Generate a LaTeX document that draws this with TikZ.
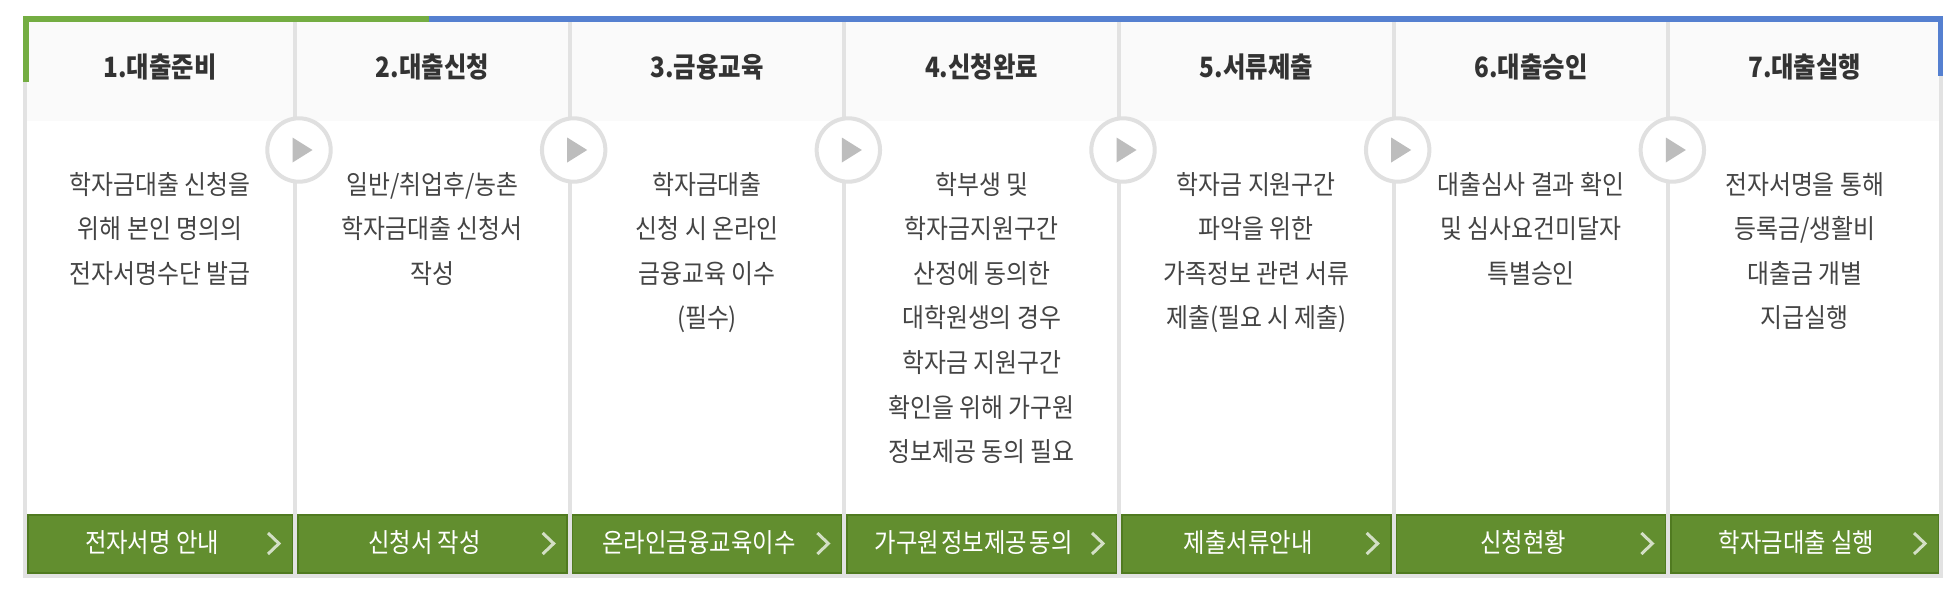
\documentclass[tikz,border=0pt]{standalone}
\usepackage{fontspec}
\newfontfamily\kr[FakeStretch=0.9]{Noto Sans CJK KR}
\newfontfamily\krbtn[FakeStretch=0.88]{Noto Sans CJK KR}
\newfontfamily\krhead[FakeStretch=0.87]{Noto Sans CJK KR}
\definecolor{frgray}{HTML}{E2E2E2}
\definecolor{hdbg}{HTML}{FAFAFA}
\definecolor{topgreen}{RGB}{116,173,66}
\definecolor{topblue}{RGB}{85,128,208}
\definecolor{btnfill}{RGB}{98,142,47}
\definecolor{btnedge}{RGB}{80,122,32}
\definecolor{hdtext}{HTML}{333333}
\definecolor{bdtext}{HTML}{444444}
\definecolor{tri}{HTML}{BDBDBD}
\definecolor{circ}{HTML}{E0E0E0}
\tikzset{
  headtxt/.style={anchor=base, inner sep=0pt, text=hdtext, font={\krhead\bfseries\fontsize{28}{32}\selectfont}},
  bodytxt/.style={anchor=base, inner sep=0pt, text=bdtext, font={\kr\fontsize{26.5}{30}\selectfont}},
  btntxt/.style={anchor=base, inner sep=0pt, text=white, font={\krbtn\fontsize{26.5}{30}\selectfont}},
  btnbox/.style={fill=btnfill, draw=btnedge, line width=1.5pt},
  chev/.style={draw=white!72!btnfill, line width=3pt},
  stepcirc/.style={circle, draw=circ, line width=4pt, fill=white, minimum size=63.4pt, inner sep=0pt},
}
\begin{document}
\begin{tikzpicture}[x=1pt,y=-1pt]
\useasboundingbox (0,0) rectangle (1956,592);
\fill[white] (0,0) rectangle (1956,592);
% header background
\fill[hdbg] (27,22) rectangle (1939,121);
% separators
\foreach \k in {1,...,6}{
  \pgfmathsetmacro{\sx}{295+274.667*(\k-1)}
  \fill[frgray] (\sx-2,22) rectangle (\sx+2,578);
}
% frame
\fill[frgray] (23,22) rectangle (27,578);
\fill[frgray] (1939,22) rectangle (1943,578);
\fill[frgray] (23,573.5) rectangle (1943,578);
% top coloured borders
\fill[topgreen] (23,16) rectangle (429,22);
\fill[topgreen] (23,16) rectangle (29,82);
\fill[topblue] (429,16) rectangle (1943,22);
\fill[topblue] (1937.5,16) rectangle (1943,76);
% column geometry
\def\colL#1{\ifcase#1\or27\or297\or571.67\or846.33\or1121\or1395.67\or1670.33\fi}
\def\colR#1{\ifcase#1\or293\or567.67\or842.33\or1117\or1391.67\or1666.33\or1939\fi}
% buttons
\foreach \k/\lab in {1/전자서명 안내, 2/신청서 작성, 3/온라인금융교육이수, 4/{\spaceskip=2.5pt 가구원 정보제공 동의}, 5/제출서류안내, 6/신청현황, 7/학자금대출 실행}{
  \pgfmathsetmacro{\L}{\colL{\k}}
  \pgfmathsetmacro{\R}{\colR{\k}}
  \pgfmathsetmacro{\C}{(\L+\R)/2}
  \draw[btnbox] (\L+0.75,514.75) rectangle (\R-0.75,572.75);
  \node[btntxt] (btn\k) at (\C-8,552.5) {\lab};
  \draw[chev] (\R-25,533) -- (\R-14,543.5) -- (\R-25,554);
}
% headers
\foreach \k/\lab in {1/1.대출준비, 2/2.대출신청, 3/3.금융교육, 4/4.신청완료, 5/5.서류제출, 6/6.대출승인, 7/7.대출실행}{
  \pgfmathsetmacro{\C}{(\colL{\k}+\colR{\k})/2}
  \node[headtxt] (h\k) at (\C,77.5) {\lab};
}
% body text
\newcommand\bodycol[2]{%
  \pgfmathsetmacro{\C}{(\colL{#1}+\colR{#1})/2}
  \foreach \t [count=\i] in {#2}{
    \node[bodytxt] (b#1l\i) at (\C,194+44.6*\i-44.6) {\t};
  }
}
\bodycol{1}{학자금대출 신청을, 위해 본인 명의의, 전자서명수단 발급}
\bodycol{2}{일반/취업후/농촌, 학자금대출 신청서, 작성}
\bodycol{3}{학자금대출, 신청 시 온라인, 금융교육 이수, {(필수)}}
\bodycol{4}{학부생 및, 학자금지원구간, 산정에 동의한, 대학원생의 경우, 학자금 지원구간, 확인을 위해 가구원, 정보제공 동의 필요}
\bodycol{5}{학자금 지원구간, 파악을 위한, 가족정보 관련 서류, {제출(필요 시 제출)}}
\bodycol{6}{대출심사 결과 확인, 및 심사요건미달자, 특별승인}
\bodycol{7}{전자서명을 통해, 등록금/생활비, 대출금 개별, 지급실행}
% step circles with play triangles
\foreach \k in {1,...,6}{
  \pgfmathsetmacro{\cx}{299+274.667*(\k-1)}
  \node[stepcirc] (c\k) at (\cx,150) {};
  \fill[tri] ([xshift=-6.5pt,yshift=12.5pt]c\k.center) -- ([xshift=13.5pt]c\k.center) -- ([xshift=-6.5pt,yshift=-12.5pt]c\k.center) -- cycle;
}
\end{tikzpicture}
\end{document}
